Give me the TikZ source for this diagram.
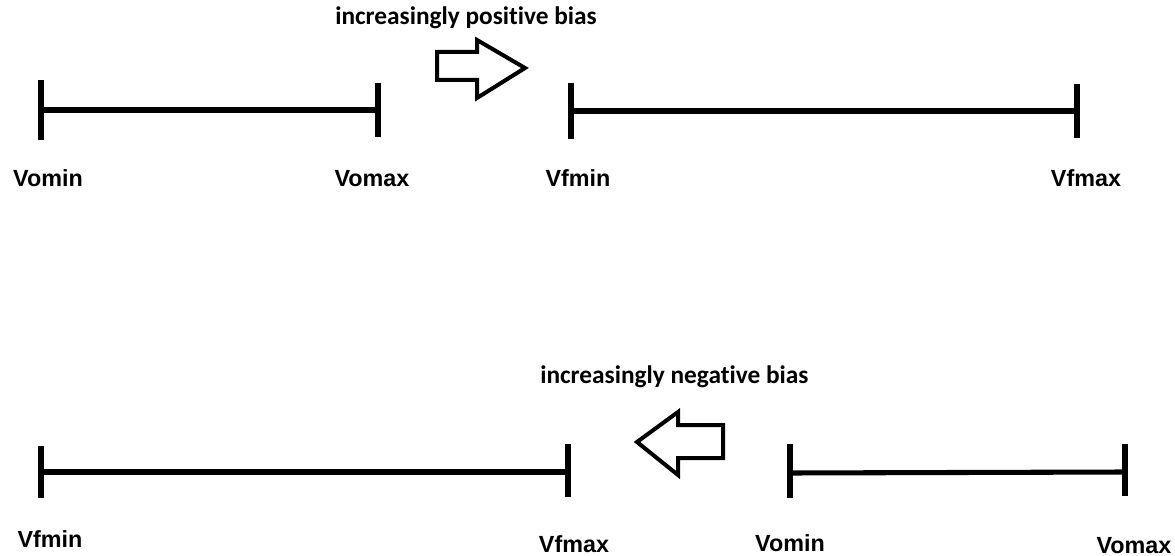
\documentclass[tikz,border=0pt]{standalone}
\usepackage{fontspec}
\usepackage{tikz}
\usetikzlibrary{positioning}
\setmainfont[Ligatures=NoCommon]{Carlito}
\newfontfamily\lblfont{Liberation Sans}

\begin{document}
\begin{tikzpicture}[x=0.75pt,y=-0.75pt,
          bar/.style={line width=3.8pt},
          tick/.style={line width=4.5pt},
          lbl/.style={font=\lblfont\bfseries\fontsize{17.5}{20}\selectfont,inner sep=0pt,anchor=base},
          note/.style={font=\bfseries\fontsize{19}{22}\selectfont,inner sep=0pt,anchor=base west},
          hollow/.style={line width=3pt,line join=miter}]
        \useasboundingbox (0,0) rectangle (1175,556);
        % upper range pair
        \coordinate (omin1) at (41,110);
        \coordinate (omax1) at (378,110);
        \coordinate (fmin1) at (571,111);
        \coordinate (fmax1) at (1077,111);
        \draw[bar](omin1)--(omax1);
        \draw[bar](fmin1)--(fmax1);
        \draw[tick]([yshift=22.5pt]omin1)--([yshift=-22.5pt]omin1);
        \draw[tick]([yshift=20pt]omax1)--([yshift=-20pt]omax1);
        \draw[tick]([yshift=21pt]fmin1)--([yshift=-21pt]fmin1);
        \draw[tick]([yshift=20.5pt]fmax1)--([yshift=-20.5pt]fmax1);
        \node[lbl](vomin1) at (48,187){Vomin};
        \node[lbl](vomax1) at (372,187){Vomax};
        \node[lbl](vfmin1) at (578,187){Vfmin};
        \node[lbl](vfmax1) at (1086,187){Vfmax};
        \node[note](pos) at (335,25){increasingly positive bias};
        \draw[hollow](437,52)--(477,52)--(477,40)--(525,68)--(477,98)--(477,80)--(437,80)--cycle;
        % lower range pair
        \coordinate (fmin2) at (41,472);
        \coordinate (fmax2) at (568,472);
        \coordinate (omin2) at (790,473);
        \coordinate (omax2) at (1125,472);
        \draw[bar](fmin2)--(fmax2);
        \draw[bar](omin2)--(omax2);
        \draw[tick]([yshift=19.5pt]fmin2)--([yshift=-19.5pt]fmin2);
        \draw[tick]([yshift=21pt]fmax2)--([yshift=-19pt]fmax2);
        \draw[tick]([yshift=22pt]omin2)--([yshift=-19pt]omin2);
        \draw[tick]([yshift=21pt]omax2)--([yshift=-18pt]omax2);
        \node[lbl](vfmin2) at (50,547){Vfmin};
        \node[lbl](vfmax2) at (574,552){Vfmax};
        \node[lbl](vomin2) at (790,551){Vomin};
        \node[lbl](vomax2) at (1134,553){Vomax};
        \node[note](neg) at (540,383){increasingly negative bias};
        \draw[hollow](723,425)--(678,425)--(678,412)--(637,442)--(678,475)--(678,458)--(723,458)--cycle;
      \end{tikzpicture}
\end{document}
